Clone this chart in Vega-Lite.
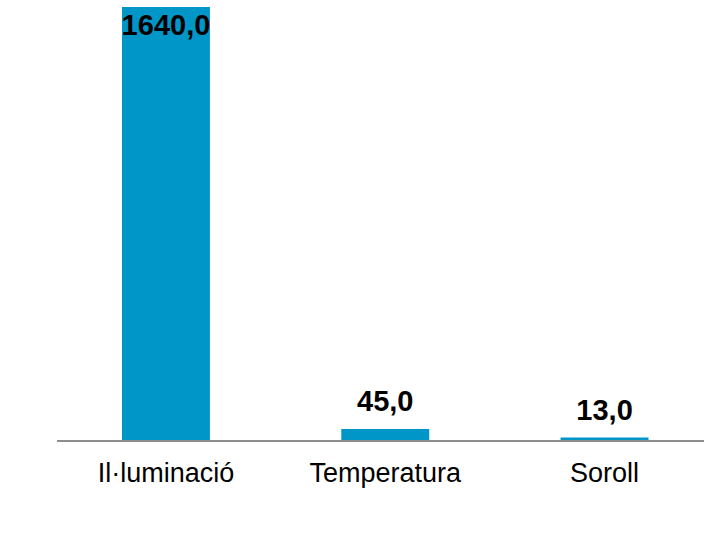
{
  "$schema": "https://vega.github.io/schema/vega-lite/v6.json",
  "width": 647,
  "height": 441,
  "autosize": {"type": "none"},
  "padding": {"left": 57, "top": 0, "right": 0, "bottom": 93},
  "background": "white",
  "config": {
    "view": {"stroke": null},
    "font": "Liberation Sans",
    "locale": {"number": {"decimal": ",", "thousands": ".", "grouping": [3], "currency": ["", " €"]}}
  },
  "data": {"values": [
    {"categoria": "Il·luminació", "valor": 1640},
    {"categoria": "Temperatura", "valor": 45},
    {"categoria": "Soroll", "valor": 13}
  ]},
  "encoding": {
    "x": {
      "field": "categoria", "type": "nominal", "sort": null,
      "scale": {"range": [65, 591.5], "paddingInner": 0.599, "paddingOuter": 0},
      "axis": {"title": null, "domain": false, "ticks": false, "tickSize": 0, "labelAngle": 0,
               "labelFont": "Liberation Sans", "labelFontSize": 27, "labelColor": "#000000",
               "labelBaseline": "alphabetic", "labelPadding": 40}
    },
    "y": {
      "field": "valor", "type": "quantitative",
      "scale": {"domain": [0, 1666], "nice": false, "zero": true},
      "axis": null
    }
  },
  "layer": [
    {"mark": {"type": "bar", "color": "#0096C8"}},
    {"mark": {"type": "rule", "color": "#8c8c8c", "strokeWidth": 1.5}, "encoding": {"x": null, "y": {"datum": 0, "type": "quantitative"}}},
    {"transform": [{"filter": "datum.valor < 1000"}],
     "mark": {"type": "text", "baseline": "alphabetic", "dy": -18, "fontSize": 29, "fontWeight": "bold", "color": "#000000"},
     "encoding": {"text": {"field": "valor", "type": "quantitative", "format": ".1f"}}},
    {"transform": [{"filter": "datum.valor >= 1000"}],
     "mark": {"type": "text", "baseline": "alphabetic", "dy": 28, "fontSize": 29, "fontWeight": "bold", "color": "#000000"},
     "encoding": {"text": {"field": "valor", "type": "quantitative", "format": ".1f"}}}
  ]
}
